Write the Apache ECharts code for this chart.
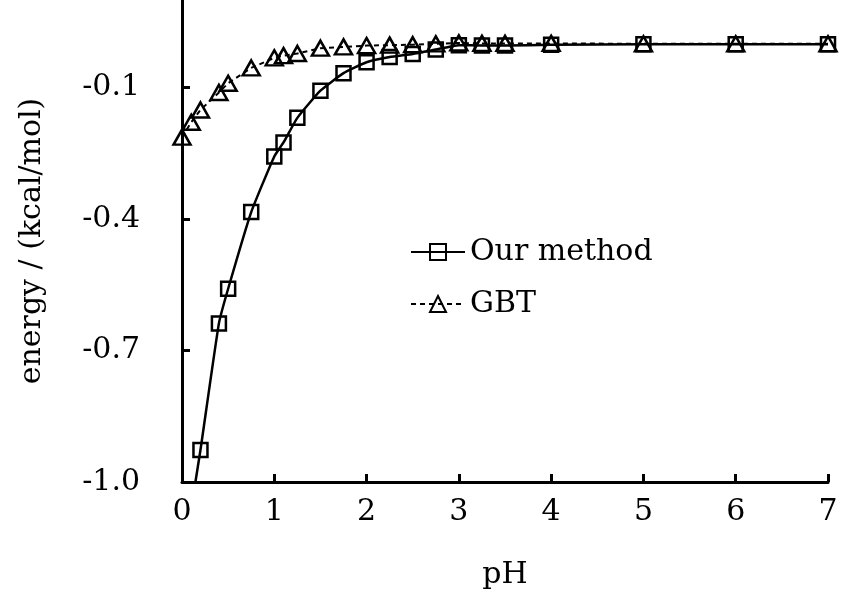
<!DOCTYPE html>
<html>
<head>
<meta charset="utf-8">
<script src="https://cdn.jsdelivr.net/npm/echarts@6/dist/echarts.min.js"></script>
<style>html,body{margin:0;padding:0;background:#fff}#c{width:841px;height:610px}</style>
</head>
<body>
<div id="c"></div>
<script>
// pH values and energies (kcal/mol)
const ourX = [0.1, 0.2, 0.4, 0.5, 0.75, 1.0, 1.1, 1.25, 1.5, 1.75, 2.0, 2.25, 2.5, 2.75, 3.0, 3.25, 3.5, 4, 5, 6, 7];
const ourY = [-1.06, -0.927, -0.638, -0.559, -0.384, -0.257, -0.225, -0.169, -0.107, -0.067, -0.042, -0.030, -0.023, -0.013, -0.003, -0.004, -0.004, -0.002, -0.001, -0.001, -0.001];
const gbtX = [0, 0.1, 0.2, 0.4, 0.5, 0.75, 1.0, 1.1, 1.25, 1.5, 1.75, 2.0, 2.25, 2.5, 2.75, 3.0, 3.25, 3.5, 4, 5, 6, 7];
const gbtY = [-0.213, -0.179, -0.151, -0.111, -0.090, -0.055, -0.032, -0.027, -0.022, -0.010, -0.007, -0.004, -0.003, -0.002, 0.000, 0.002, 0.001, 0.001, 0.001, 0.000, 0.000, 0.000];
const yTicks = [-1.0, -0.7, -0.4, -0.1];
const xTicks = [0, 1, 2, 3, 4, 5, 6, 7];
const seriesNames = ['Our method', 'GBT'];

const FONT = 'DejaVu Serif';
const chart = echarts.init(document.getElementById('c'), null, {renderer: 'canvas'});
const zip = (xs, ys) => xs.map((x, i) => [x, ys[i]]);

chart.setOption({
  animation: false,
  backgroundColor: '#fff',
  grid: {left: 182, right: 13, top: 0, bottom: 128, containLabel: false},
  legend: {
    orient: 'vertical', left: 405, top: 232,
    itemWidth: 54, itemHeight: 20, itemGap: 22,
    textStyle: {fontFamily: FONT, fontSize: 30, color: '#000', lineHeight: 30},
    data: seriesNames
  },
  xAxis: {
    type: 'value', min: 0, max: 7, interval: 1,
    name: 'pH', nameLocation: 'middle', nameGap: 78,
    nameTextStyle: {fontFamily: FONT, fontSize: 30, color: '#000'},
    axisLine: {show: true, onZero: false, lineStyle: {color: '#000', width: 3}},
    axisTick: {show: true, inside: true, length: 8, lineStyle: {color: '#000', width: 3}, customValues: xTicks},
    axisLabel: {fontFamily: FONT, fontSize: 30, color: '#000', margin: 15, customValues: xTicks},
    splitLine: {show: false}
  },
  yAxis: {
    type: 'value', min: -1.0, max: 0.1, interval: 0.3,
    name: 'energy / (kcal/mol)', nameLocation: 'middle', nameGap: 135, nameRotate: 90,
    nameTextStyle: {fontFamily: FONT, fontSize: 30, color: '#000'},
    axisLine: {show: true, onZero: false, lineStyle: {color: '#000', width: 3}},
    axisTick: {show: true, inside: true, length: 8, lineStyle: {color: '#000', width: 3}, customValues: yTicks},
    axisLabel: {fontFamily: FONT, fontSize: 30, color: '#000', margin: 42, customValues: yTicks,
      formatter: v => v.toFixed(1)},
    splitLine: {show: false}
  },
  series: [
    {
      name: seriesNames[0], type: 'line', data: zip(ourX, ourY),
      smooth: 0.15, clip: true,
      symbol: 'rect', symbolSize: 14,
      lineStyle: {color: '#000', width: 2.5},
      itemStyle: {color: 'rgba(0,0,0,0)', borderColor: '#000', borderWidth: 2.5},
      z: 3
    },
    {
      name: seriesNames[1], type: 'line', data: zip(gbtX, gbtY),
      smooth: false, clip: true,
      symbol: 'triangle', symbolSize: [17, 15],
      lineStyle: {color: '#000', width: 2, type: [5, 4]},
      itemStyle: {color: 'rgba(0,0,0,0)', borderColor: '#000', borderWidth: 2.5},
      z: 2
    }
  ]
});
</script>
</body>
</html>
